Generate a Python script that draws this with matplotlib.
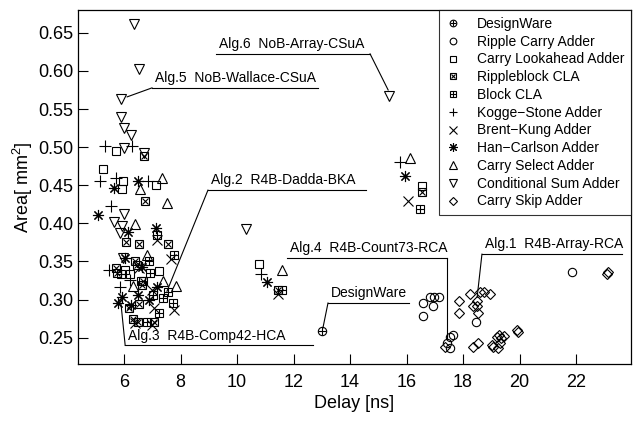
import matplotlib
matplotlib.use("Agg")
import matplotlib.pyplot as plt
from matplotlib.legend_handler import HandlerTuple

plt.rcParams['font.family'] = ['Liberation Sans', 'DejaVu Sans']
plt.rcParams['mathtext.fontset'] = 'custom'
plt.rcParams['mathtext.rm'] = 'Liberation Sans'
plt.rcParams['mathtext.it'] = 'Liberation Sans'

# --- data (delay [ns], area [mm^2]) ---
dw_x = [13.0]
dw_y = [0.259]

rca_x = [16.60, 16.93, 16.60, 16.83, 16.97, 17.15, 17.66, 17.54, 17.43, 17.54, 18.45, 21.85]
rca_y = [0.296, 0.291, 0.278, 0.303, 0.303, 0.303, 0.254, 0.251, 0.243, 0.237, 0.270, 0.336]

cla_x = [5.72, 5.25, 5.98, 5.91, 7.13, 7.22, 6.04, 6.21, 6.60, 16.56, 10.78]
cla_y = [0.495, 0.471, 0.455, 0.445, 0.450, 0.338, 0.339, 0.334, 0.325, 0.449, 0.347]

rb_x = [6.72, 6.74, 6.07, 6.54, 7.54, 6.39, 5.70, 6.47, 5.74, 6.68, 6.62, 6.19, 6.54,
        6.31, 6.50, 7.07, 16.56, 11.46]
rb_y = [0.489, 0.430, 0.376, 0.373, 0.373, 0.350, 0.342, 0.345, 0.335, 0.324, 0.319, 0.289, 0.294,
        0.275, 0.270, 0.271, 0.441, 0.313]

bcla_x = [7.16, 7.78, 6.90, 6.92, 5.88, 7.55, 7.02, 7.39, 7.72, 7.22, 6.83, 16.48, 11.60]
bcla_y = [0.385, 0.359, 0.350, 0.335, 0.333, 0.310, 0.306, 0.302, 0.296, 0.283, 0.271, 0.419, 0.313]

ks_x = [5.33, 6.27, 5.16, 5.73, 6.86, 5.53, 5.45, 6.21, 5.86, 15.77, 10.85]
ks_y = [0.502, 0.501, 0.455, 0.460, 0.455, 0.423, 0.339, 0.326, 0.317, 0.480, 0.334]

bk_x = [7.16, 7.66, 6.54, 7.07, 7.78, 6.98, 6.39, 7.00, 16.07, 11.46]
bk_y = [0.378, 0.353, 0.341, 0.289, 0.287, 0.267, 0.269, 0.312, 0.430, 0.307]

hc_x = [5.63, 6.50, 5.09, 7.13, 6.13, 6.04, 6.62, 7.16, 6.49, 5.93, 5.77, 6.24, 6.90, 15.95, 11.05]
hc_y = [0.446, 0.455, 0.411, 0.394, 0.389, 0.354, 0.343, 0.316, 0.306, 0.303, 0.296, 0.293, 0.300, 0.462, 0.323]

csel_x = [7.33, 6.58, 7.51, 6.39, 6.83, 7.39, 6.33, 7.84, 16.12, 11.58]
csel_y = [0.460, 0.445, 0.427, 0.399, 0.359, 0.325, 0.318, 0.318, 0.486, 0.339]

csum_x = [6.35, 6.54, 5.89, 5.89, 6.01, 6.24, 6.01, 6.72, 6.01, 5.63, 5.94, 5.84, 5.95, 10.32, 15.38]
csum_y = [0.662, 0.603, 0.563, 0.539, 0.525, 0.516, 0.499, 0.493, 0.412, 0.402, 0.396, 0.388, 0.354, 0.392, 0.567]

skip_x = [17.37, 17.87, 17.87, 18.25, 18.49, 18.60, 18.74, 18.95, 18.37, 18.49, 18.54, 18.37, 18.54,
          19.02, 19.19, 19.27, 19.36, 19.45, 19.31, 19.25, 19.05, 19.90, 19.95, 23.08, 23.15]
skip_y = [0.238, 0.298, 0.283, 0.308, 0.298, 0.310, 0.310, 0.307, 0.292, 0.292, 0.282, 0.238, 0.243,
          0.240, 0.251, 0.254, 0.250, 0.252, 0.243, 0.236, 0.238, 0.260, 0.258, 0.334, 0.336]

# annotations: label, underline start x, underline end x, underline y, target point
ann_labels = ["Alg.6  NoB-Array-CSuA", "Alg.5  NoB-Wallace-CSuA", "Alg.2  R4B-Dadda-BKA",
              "Alg.4  R4B-Count73-RCA", "Alg.1  R4B-Array-RCA", "Alg.3  R4B-Comp42-HCA",
              "DesignWare"]
ann_x0 = [9.26, 6.99, 8.97, 11.76, 18.67, 6.04, 13.22]
ann_x1 = [14.71, 12.87, 14.57, 17.42, 23.63, 12.69, 16.09]
ann_y = [0.6224, 0.5778, 0.4436, 0.3543, 0.3596, 0.2399, 0.2955]
ann_tx = [15.35, 6.11, 7.52, 17.42, 18.50, 5.89, 13.04]
ann_ty = [0.575, 0.566, 0.311, 0.249, 0.303, 0.295, 0.2627]
ann_start = ["end", "start", "start", "end", "start", "start", "start"]

fig = plt.figure(figsize=(6.42, 4.32), dpi=100)
ax = fig.add_axes([0.1215, 0.1574, 0.8615, 0.8195])

k = dict(linestyle='none', color='black', mfc='none', mew=0.8)
h_dw = (ax.plot(dw_x, dw_y, marker='o', ms=6, **k)[0],
        ax.plot(dw_x, dw_y, marker='+', ms=6, **k)[0])
h_rca = ax.plot(rca_x, rca_y, marker='o', ms=6, **k)[0]
h_cla = ax.plot(cla_x, cla_y, marker='s', ms=5.5, **k)[0]
h_rb = (ax.plot(rb_x, rb_y, marker='s', ms=5.5, **k)[0],
        ax.plot(rb_x, rb_y, marker='x', ms=4.2, **k)[0])
h_bcla = (ax.plot(bcla_x, bcla_y, marker='s', ms=5.5, **k)[0],
          ax.plot(bcla_x, bcla_y, marker='+', ms=5.5, **k)[0])
h_ks = ax.plot(ks_x, ks_y, marker='+', ms=8, **k)[0]
h_bk = ax.plot(bk_x, bk_y, marker='x', ms=6.5, **k)[0]
h_hc = ax.plot(hc_x, hc_y, marker=(8, 2, 0), ms=8, **k)[0]
h_csel = ax.plot(csel_x, csel_y, marker='^', ms=7, **k)[0]
h_csum = ax.plot(csum_x, csum_y, marker='v', ms=7, **k)[0]
h_skip = ax.plot(skip_x, skip_y, marker='D', ms=5, **k)[0]

for lab, x0, x1, y, tx, ty, st in zip(ann_labels, ann_x0, ann_x1, ann_y, ann_tx, ann_ty, ann_start):
    ax.plot([x0, x1], [y, y], color='black', lw=0.8)
    cx = x0 if st == "start" else x1
    ax.plot([cx, tx], [y, ty], color='black', lw=0.8)
    ax.annotate(lab, (x0, y), xytext=(2, 2), textcoords='offset points',
                fontsize=10, ha='left', va='bottom')

handles = [h_dw, h_rca, h_cla, h_rb, h_bcla, h_ks, h_bk, h_hc, h_csel, h_csum, h_skip]
labels = ["DesignWare", "Ripple Carry Adder", "Carry Lookahead Adder", "Rippleblock CLA",
          "Block CLA", "Kogge\u2212Stone Adder", "Brent\u2212Kung Adder", "Han\u2212Carlson Adder",
          "Carry Select Adder", "Conditional Sum Adder", "Carry Skip Adder"]
leg = ax.legend(handles, labels, loc='upper right', borderaxespad=0, fontsize=10,
                handler_map={tuple: HandlerTuple(ndivide=1)}, handlelength=1.0,
                handletextpad=1.2, labelspacing=0.27, fancybox=False, markerscale=0.8,
                borderpad=0.5)
leg.get_frame().set_edgecolor('black')
leg.get_frame().set_linewidth(0.8)

ax.set_xlim(4.37, 23.95)
ax.set_ylim(0.2155, 0.680)
ax.set_xticks([6, 8, 10, 12, 14, 16, 18, 20, 22])
ax.set_yticks([0.25, 0.30, 0.35, 0.40, 0.45, 0.50, 0.55, 0.60, 0.65])
ax.set_yticklabels(["%.2f" % v for v in ax.get_yticks()])
ax.tick_params(direction='in', length=7, width=0.8, labelsize=13, top=False, right=False)
ax.tick_params(axis='x', pad=7)
for s in ax.spines.values():
    s.set_linewidth(0.9)

ax.set_xlabel("Delay [ns]", fontsize=13, labelpad=3)
ax.set_ylabel("Area[ mm$^2$]", fontsize=13, labelpad=2)

fig.savefig("out.png", dpi=100)
